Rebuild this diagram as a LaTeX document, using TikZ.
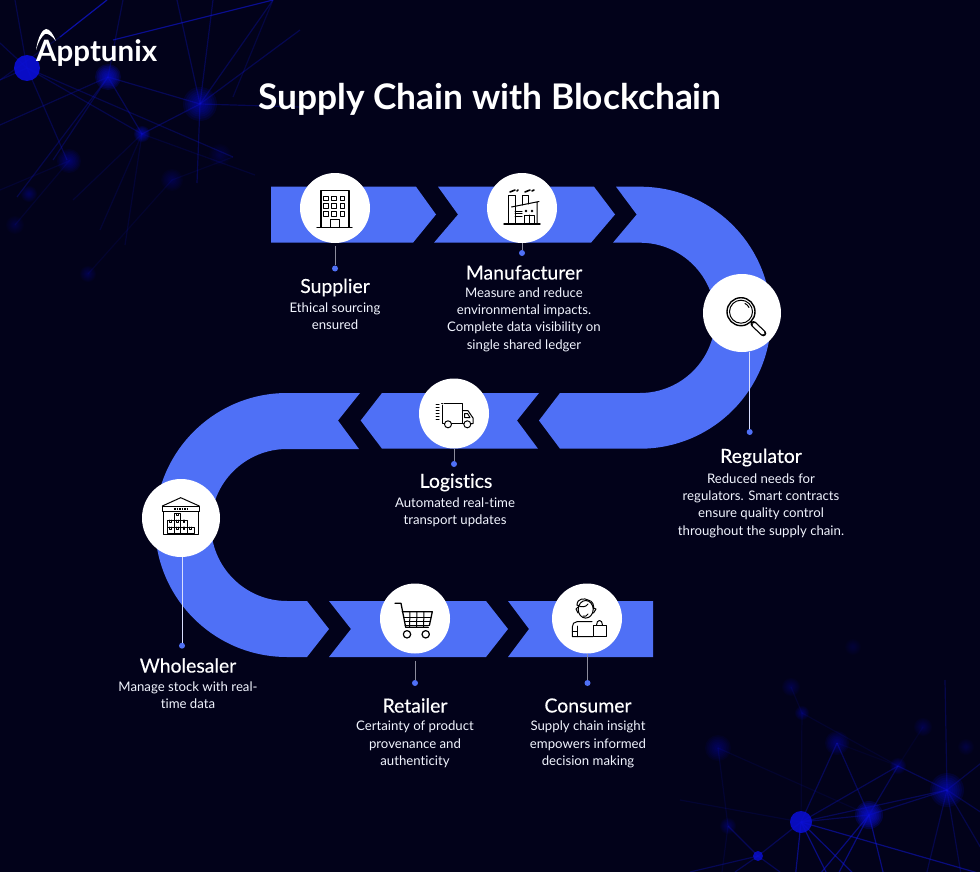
\documentclass[tikz,border=0pt]{standalone}
\usepackage{fontspec}
\setmainfont[Ligatures=NoCommon]{Lato}
\newfontfamily\headfont[Ligatures=NoCommon, FakeBold=0.35]{Lato}
\usetikzlibrary{arrows.meta}

\definecolor{nightbg}{HTML}{02021A}
\definecolor{bandblue}{HTML}{4F70F6}
\definecolor{netblue}{HTML}{1016E0}
\definecolor{hubblue}{HTML}{0A0ED8}
\definecolor{stemgray}{HTML}{8C8C9C}
\definecolor{stemlight}{HTML}{D8DEFF}

\tikzset{
    band/.style={fill=bandblue},
    iconcircle/.style={circle, fill=white, inner sep=0pt, minimum size=70pt},
    iconbig/.style={iconcircle, minimum size=78pt},
    stemdot/.style={circle, fill=bandblue, inner sep=0pt, minimum size=6pt},
    stem/.style={stemgray, line width=1pt},
    stemover/.style={stemlight, line width=1pt},
    heading/.style={text=white, font=\fontsize{19.4}{22}\headfont},
    blurb/.style={text=white!92!bandblue, align=center, font=\fontsize{13.2}{17.3}\selectfont},
    icon/.style={black, line width=1pt, line join=round, line cap=round},
    net/.style={netblue, line width=1.2pt},
}

% soft round glow: x, y, radius, strength
\newcommand{\hubglow}[4]{
    \foreach \k in {1,...,8}
        \fill[hubblue, opacity=#4] (#1,#2) circle[radius={#3*\k/8}];
}

\begin{document}
\begin{tikzpicture}[x=1pt, y=-1pt]

    \fill[nightbg] (0,0) rectangle (980,872);
    \clip (0,0) rectangle (980,872);

    % network, top left
    \coordinate (a1) at (27,68);
    \coordinate (a2) at (108,77);
    \coordinate (a3) at (200,104);
    \coordinate (a4) at (142,134);
    \foreach \p/\q in {a2/a3, a2/a4, a3/a4}
        \draw[net, opacity=0.3] (\p) -- (\q);
    \foreach \q in {(15,0), (0,43), (0,80), (142,134), (233,157), (67,160)}
        \draw[net, opacity=0.25] (a1) -- \q;
    \foreach \q in {(0,125), (53,160), (17,197), (123,0)}
        \draw[net, opacity=0.25] (a2) -- \q;
    \foreach \q in {(177,0), (213,0), (300,30), (300,107), (197,183), (273,0)}
        \draw[net, opacity=0.28] (a3) -- \q;
    \foreach \q in {(73,200), (100,230), (125,245), (255,175)}
        \draw[net, opacity=0.14] (a4) -- \q;
    \draw[net, opacity=0.7] (60,37) -- (107,0);
    \draw[net, opacity=0.6] (113,40) -- (273,0);
    \draw[net, opacity=0.22] (60,37) -- (0,80);
    \draw[net, opacity=0.2] (273,0) -- (233,97);
    \draw[net, opacity=0.12] (0,190) -- (69,161) -- (15,225);
    \draw[net, opacity=0.1] (88,274) -- (172,180) -- (233,157);

    % network, bottom right
    \coordinate (b1) at (801,822);
    \coordinate (b2) at (869,815);
    \coordinate (b3) at (947,790);
    \coordinate (b4) at (758,856);
    \coordinate (b5) at (837,743);
    \coordinate (b6) at (898,766);
    \foreach \p/\q in {b1/b2, b1/b5, b1/b6, b2/b3, b2/b5, b2/b6, b1/b4, b6/b3, b1/b3}
        \draw[net, opacity=0.3] (\p) -- (\q);
    \foreach \q in {(985,875), (860,880), (795,880), (830,880)}
        \draw[net, opacity=0.5] (b1) -- \q;
    \foreach \q in {(885,880), (815,880), (835,880)}
        \draw[net, opacity=0.5] (b2) -- \q;
    \foreach \q in {(925,880), (962,880), (985,760), (985,815), (985,855), (945,680)}
        \draw[net, opacity=0.25] (b3) -- \q;
    \foreach \q in {(690,872), (735,872), (780,872), (728,826)}
        \draw[net, opacity=0.3] (b4) -- \q;
    \draw[net, opacity=0.12] (718,748) -- (728,826) -- (722,872);
    \draw[net, opacity=0.12] (680,800) -- (801,822);
    \draw[net, opacity=0.1] (718,748) -- (869,815);
    \draw[net, opacity=0.1] (802,713) -- (898,766);
    \draw[net, opacity=0.1] (791,687) -- (802,713) -- (801,822);
    \draw[net, opacity=0.08] (923,727) -- (898,766) -- (837,743);

    % hubs, top left
    \fill[hubblue, opacity=0.9] (27,68) circle[radius=13];
    \hubglow{108}{77}{13}{0.17}
    \hubglow{200}{104}{17}{0.11}
    \hubglow{142}{134}{8}{0.12}
    \hubglow{69}{161}{12}{0.07}
    \hubglow{172}{180}{11}{0.04}
    \hubglow{220}{155}{11}{0.03}
    \hubglow{29}{194}{8}{0.05}
    \hubglow{15}{225}{9}{0.03}
    \hubglow{88}{274}{8}{0.04}

    % hubs, bottom right
    \fill[hubblue, opacity=0.85] (801,822) circle[radius=11];
    \fill[hubblue, opacity=0.8] (758,856) circle[radius=5];
    \hubglow{869}{815}{14}{0.2}
    \hubglow{947}{790}{17}{0.12}
    \hubglow{837}{743}{12}{0.07}
    \hubglow{718}{748}{13}{0.055}
    \hubglow{898}{766}{8}{0.07}
    \hubglow{802}{713}{7}{0.06}
    \hubglow{791}{687}{9}{0.04}
    \hubglow{923}{727}{9}{0.04}
    \hubglow{728}{826}{8}{0.05}
    \hubglow{966}{747}{8}{0.03}
    \hubglow{853}{647}{8}{0.025}

    % logo
    \fill[white] (36,50) .. controls (38,36) and (43,29) .. (46,29)
        .. controls (50,29) and (53,34) .. (56,41)
        .. controls (52,36) and (48,33) .. (45,34)
        .. controls (41,37) and (38,43) .. cycle;
    \node[text=white, font=\fontsize{29.5}{30}\selectfont\bfseries, anchor=base west, inner sep=0pt] (logo) at (36,62) {Apptunix};

    % title
    \node[text=white, font=\fontsize{35.3}{40}\selectfont\bfseries, anchor=base, inner sep=0pt] (title) at (490,110) {Supply Chain with Blockchain};

    % top row
    \fill[band] (271,186.7) -- (416,186.7) -- (436,214.5) -- (413,242.7) -- (271,242.7) -- cycle;
    \fill[band] (438,186.7) -- (594,186.7) -- (615,214.5) -- (591,242.7) -- (434,242.7) -- (458,214.5) -- cycle;
    % right bend
    \fill[band] (616,186.7) -- (640,186.7) arc[start angle=90, end angle=-90, radius=131pt]
        -- (560,448.7) -- (539,420.5) -- (560,393) -- (640,393)
        arc[start angle=-90, end angle=90, radius=75.15pt]
        -- (613,242.7) -- (636.7,214.5) -- cycle;
    % middle row
    \fill[band] (539,393) -- (382,393) -- (360.7,420.5) -- (382,448.7) -- (538,448.7) -- (517,420.5) -- cycle;
    % left bend
    \fill[band] (360,393) -- (287,393) arc[start angle=90, end angle=270, radius=132pt]
        -- (307,657) -- (329,629) -- (307,601) -- (287,601)
        arc[start angle=270, end angle=90, radius=76pt]
        -- (359,449) -- (338,420.5) -- cycle;
    % bottom row
    \fill[band] (329,601) -- (486,601) -- (508,629) -- (486,657) -- (329,657) -- (351,629) -- cycle;
    \fill[band] (508,601) -- (653,601) -- (653,657) -- (508,657) -- (529,629) -- cycle;

    % white circles
    \node[iconcircle] (supplier) at (335,208) {};
    \node[iconcircle] (manufacturer) at (522,208) {};
    \node[iconbig] (regulator) at (742,313) {};
    \node[iconcircle] (logistics) at (454,413.5) {};
    \node[iconbig] (wholesaler) at (181,518) {};
    \node[iconcircle] (retailer) at (415,618.5) {};
    \node[iconcircle] (consumer) at (587,618.5) {};

    % stems with dots
    \node[stemdot] (supplierdot) at (335,268.5) {};
    \node[stemdot] (manufacturerdot) at (522,253) {};
    \node[stemdot] (regulatordot) at (749.7,432) {};
    \node[stemdot] (logisticsdot) at (454,464) {};
    \node[stemdot] (wholesalerdot) at (182,645.7) {};
    \node[stemdot] (retailerdot) at (415,683) {};
    \node[stemdot] (consumerdot) at (587.5,683) {};
    \draw[stem, shorten <=3pt] (supplier) -- (supplierdot);
    \draw[stem] (manufacturer) -- (manufacturerdot);
    \draw[stemover] (regulatordot |- regulator.south) -- (regulatordot);
    \draw[stem] (logistics) -- (logisticsdot);
    \draw[stemover] (wholesalerdot |- wholesaler.south) -- (wholesalerdot);
    \draw[stem, shorten <=7pt] (retailer) -- (retailerdot);
    \draw[stem] (consumerdot |- consumer.south) -- (consumerdot);

    % labels
    \node[heading] (suppliername) at (335,287.5) {Supplier};
    \node[blurb] (suppliertext) at (335,316.5) {Ethical sourcing\\ensured};
    \node[heading] (manufacturername) at (524,272.5) {Manufacturer};
    \node[blurb] (manufacturertext) at (524,319.5) {Measure and reduce\\environmental impacts.\\Complete data visibility on\\single shared ledger};
    \node[heading] (regulatorname) at (761,457.5) {Regulator};
    \node[blurb] (regulatortext) at (761,505.5) {Reduced needs for\\regulators. Smart contracts\\ensure quality control\\throughout the supply chain.};
    \node[heading] (logisticsname) at (456,482.5) {Logistics};
    \node[blurb] (logisticstext) at (455,512.5) {Automated real-time\\transport updates};
    \node[heading] (wholesalername) at (188,665.5) {Wholesaler};
    \node[blurb] (wholesalertext) at (188,695.5) {Manage stock with real-\\time data};
    \node[heading] (retailername) at (415,705.5) {Retailer};
    \node[blurb] (retailertext) at (415,744.5) {Certainty of product\\provenance and\\authenticity};
    \node[heading] (consumername) at (588,705.5) {Consumer};
    \node[blurb] (consumertext) at (588,744.5) {Supply chain insight\\empowers informed\\decision making};

    % building
    \begin{scope}[shift={(335,208)}, icon]
        \draw[line width=1.3pt] (-14,19.3) -- (-14,-17.3) -- (14,-17.3) -- (14,19.3);
        \draw[line width=1.4pt] (-18,19.3) -- (17,19.3);
        \foreach \i in {-9,-1,7.3}
            \foreach \j in {-9.7,-2.3,5.7}
                \draw (\i-2.3,\j-2.3) rectangle (\i+2.3,\j+2.3);
        \draw (-4.3,19.3) -- (-4.3,11.3) -- (4.3,11.3) -- (4.3,19.3);
    \end{scope}

    % factory
    \begin{scope}[shift={(522,208)}, icon]
        \draw[line width=1.4pt] (-18,16) -- (18,16);
        \draw (-14,16) -- (-14,-13) -- (-7,-13) -- (-7,16);
        \draw (0,-3) -- (0,-13) -- (6,-13) -- (6,-4);
        \draw (-10.5,-1) -- (17,-6.5) (15,-6) -- (15,16);
        \draw (-7,3) -- (0,3) (-7,5.5) -- (0,5.5) (-7,8) -- (0,8);
        \draw (2,16) -- (2,7) -- (12,7) -- (12,16) (7,7) -- (7,16);
        \fill (4,3) circle[radius=1.3] (10,3) circle[radius=1.3];
        \draw[line width=1.6pt] (-12,-16) -- (-7,-18) (-5,-17) -- (-4,-18);
        \draw[line width=1.6pt] (3,-16) -- (8,-18) (10,-17) -- (12,-18);
    \end{scope}

    % magnifier
    \begin{scope}[shift={(742,313)}, icon]
        \draw[line width=1.4pt] (-1,-1.3) circle[radius=14];
        \draw (-1,-1.3) circle[radius=11.5];
        \draw[line width=1.4pt] (9,8.7) -- (11,11);
        \draw[line width=6pt] (11.5,11) -- (21.3,20.3);
        \draw[white, line width=3.5pt] (12,11.5) -- (21,20);
        \draw (3,-9.5) .. controls (5,-8.5) and (6,-7.5) .. (7,-5.5);
    \end{scope}

    % truck
    \begin{scope}[shift={(454,413)}, icon]
        \draw (-10,-9.7) -- (8.3,-9.7) -- (8.3,10.5) (-12.3,-9.7) -- (-11.5,-9.7);
        \draw (-12,-8) -- (-12,10.5) -- (-9.5,10.5) (-2.5,10.5) -- (9.5,10.5);
        \draw (8.3,-2.3) -- (14,-2.3) -- (19,5) -- (19,10.5) -- (17,10.5);
        \draw (10.5,0.5) -- (13.5,0.5) -- (16,4.5) -- (10.5,4.5) -- cycle;
        \draw (-6,11.3) circle[radius=3.5] (13.3,11.3) circle[radius=3.5];
        \foreach \j in {-9,-6,-3,0,3,6}
            \draw (-18,\j) -- (-15,\j);
    \end{scope}

    % warehouse
    \begin{scope}[shift={(181,518)}, icon]
        \draw (-18.7,-12) -- (-0.3,-20.3) -- (18.3,-12);
        \draw (-18.7,-12) rectangle (18.3,-6.3);
        \draw (-17.7,-6.3) -- (-17.7,16.3) -- (17.3,16.3) -- (17.3,-6.3);
        \draw[line width=1.6pt, dash pattern=on 1.5pt off 1pt, line cap=butt] (-7,-9.2) -- (7,-9.2);
        \foreach \i/\j in {-13.7/9, -7/9, -0.4/9, 6.3/9, -13.7/2.2, -7/2.2, -0.4/2.2, -7/-4.4}{
            \draw (\i,\j) rectangle (\i+6.7,\j+6.8);
            \draw (\i+2.5,\j) -- (\i+2.5,\j+2) -- (\i+4.2,\j+2) -- (\i+4.2,\j);
        }
    \end{scope}

    % cart
    \begin{scope}[shift={(415,618)}, icon]
        \draw[line width=1.3pt] (-20,-14.7) -- (-14,-14.7) -- (-9.3,9.3) -- (13.3,9.3);
        \draw[line width=1.3pt] (-12.7,-6.3) -- (17.3,-6.3) -- (14.5,7);
        \draw (-11.5,-1) -- (16.2,-1) (-10.6,3.5) -- (15.3,3.5) (-9.8,7) -- (14.5,7);
        \foreach \i in {-5,2,9}
            \draw (\i,-6.3) -- (\i-0.5,9.3);
        \draw[line width=1.2pt] (-8,16.3) circle[radius=3.7] (10.7,16.3) circle[radius=3.7];
    \end{scope}

    % person with bag
    \begin{scope}[shift={(587,618)}, icon]
        \draw (-1.3,-8.7) circle[x radius=7.5, y radius=8.8];
        \draw (-10,-13) .. controls (-10,-20) and (-2,-20) .. (1,-18) .. controls (6,-17) and (7,-13) .. (6.5,-9);
        \draw (-10,-13) .. controls (-5,-10) and (-1,-11) .. (1,-14);
        \draw (-9,-11) -- (-11,-9) -- (-9,-5) (6.5,-10) -- (9,-9) -- (6.5,-5);
        \draw (-4,-2) .. controls (-2,-1) and (0,-2) .. (1,-4);
        \draw (5,3.7) -- (-10,3.7) .. controls (-13,3.7) and (-14.7,6) .. (-14.7,9) -- (-14.7,18.7) -- (6,18.7);
        \draw (-14.7,13.5) -- (-10,13.5) -- (-10,18.7) (-10,8) -- (-10,13.5);
        \draw (6.3,7) -- (19,7) -- (19,18.7) -- (6.3,18.7) -- cycle;
        \draw (9.5,7) .. controls (9.5,1) and (15.5,1) .. (15.5,7);
    \end{scope}

\end{tikzpicture}
\end{document}
